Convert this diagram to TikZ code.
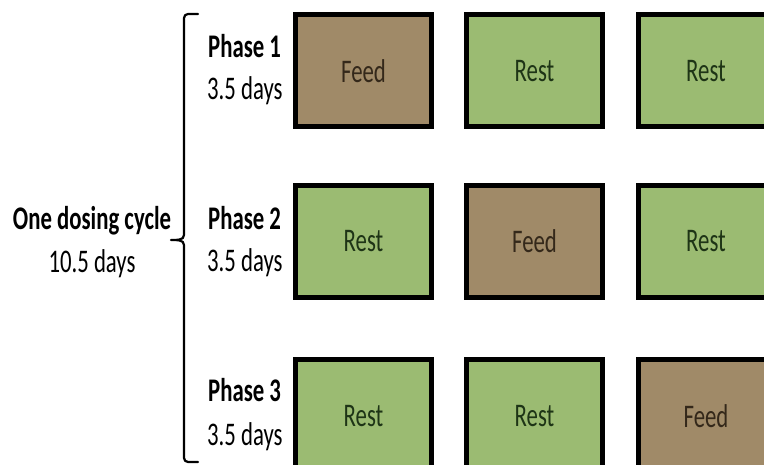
\documentclass[tikz,border=0pt]{standalone}
\usepackage{fontspec}
\setmainfont[FakeStretch=0.69]{Carlito}
\definecolor{feedc}{RGB}{160,138,104}
\definecolor{restc}{RGB}{155,187,114}
\definecolor{feedt}{RGB}{52,40,26}
\definecolor{restt}{RGB}{30,52,22}
\tikzset{
  cell/.style={draw=black, line width=5pt, minimum width=136pt, minimum height=112pt, inner sep=0pt, font=\fontsize{33}{36}\selectfont},
  feed/.style={cell, fill=feedc, text=feedt},
  rest/.style={cell, fill=restc, text=restt},
  phase/.style={anchor=base west, font=\fontsize{33}{36}\selectfont\bfseries, inner sep=0pt},
  days/.style={anchor=base west, font=\fontsize{33}{36}\selectfont, inner sep=0pt},
}
\begin{document}
\begin{tikzpicture}[x=1pt, y=-1pt]
\useasboundingbox (0,0) rectangle (764,465);
% row 1
\node[feed] (f11) at (363.5,71) {Feed};
\node[rest] (r12) at (534.5,71) {Rest};
\node[rest] (r13) at (706,71) {Rest};
% row 2
\node[rest] (r21) at (363.5,241.5) {Rest};
\node[feed] (f22) at (534.5,241.5) {Feed};
\node[rest] (r23) at (706,241.5) {Rest};
% row 3
\node[rest] (r31) at (363.5,416) {Rest};
\node[rest] (r32) at (534.5,416) {Rest};
\node[feed] (f33) at (706,416) {Feed};
% phase labels
\node[phase] (p1) at (208,58) {Phase 1};
\node[days] (d1) at (207,100) {3.5 days};
\node[phase] (p2) at (208,230) {Phase 2};
\node[days] (d2) at (207,272) {3.5 days};
\node[phase] (p3) at (208,402) {Phase 3};
\node[days] (d3) at (207,445) {3.5 days};
% cycle label
\node[font=\fontsize{33}{36}\selectfont\bfseries, anchor=base, inner sep=0pt] (cyc) at (92,230) {One dosing cycle};
\node[font=\fontsize{33}{36}\selectfont, anchor=base, inner sep=0pt] (cycd) at (92,273) {10.5 days};
% brace
\coordinate (bt) at (198,14);
\coordinate (bb) at (198,462);
\coordinate (tip) at (171,240);
\draw[line width=2.2pt, line cap=round, line join=round]
  (bt) -- (188,14) to[out=180,in=90] (184,18) -- (184,235)
  to[out=-90,in=0] (tip) to[out=0,in=90] (184,245) -- (184,458)
  to[out=-90,in=180] (188,462) -- (bb);
\end{tikzpicture}
\end{document}
